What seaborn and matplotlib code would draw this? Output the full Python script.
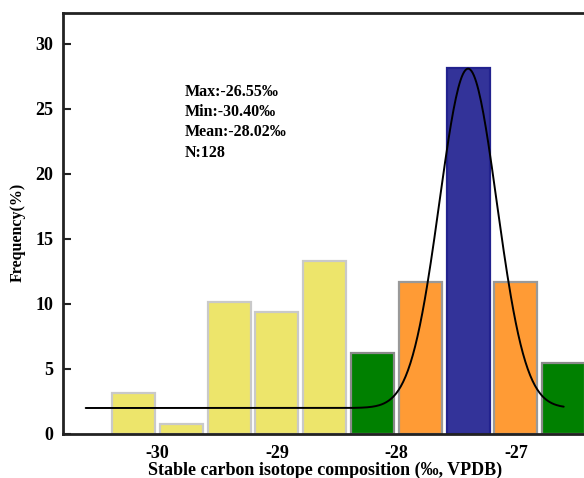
import numpy as np
import pandas as pd
import matplotlib
matplotlib.use("Agg")
import matplotlib.pyplot as plt
import seaborn as sns

# ---- data ----
bin_left = [-30.4, -30.0, -29.6, -29.2, -28.8, -28.4, -28.0, -27.6, -27.2, -26.8]
bin_width = 0.4
freq_pct = [3.13, 0.78, 10.16, 9.38, 13.28, 6.25, 11.72, 28.13, 11.72, 5.47]
bar_colors = ["#EDE56B", "#EDE56B", "#EDE56B", "#EDE56B", "#EDE56B",
              "#008000", "#FF9B35", "#333399", "#FF9B35", "#008000"]
edge_colors = ["#C9C9C9", "#C9C9C9", "#C9C9C9", "#C9C9C9", "#C9C9C9",
               "#8A8A8A", "#999999", "#22228E", "#999999", "#8A8A8A"]
x_ticks = [-30, -29, -28, -27]
y_ticks = [0, 5, 10, 15, 20, 25, 30]
stats_lines = ["Max:-26.55\u2030", "Min:-30.40\u2030", "Mean:-28.02\u2030", "N:128"]
# fitted curve parameters (baseline + gaussian)
fit_base, fit_amp, fit_mu, fit_sigma = 2.0, 26.1, -27.4, 0.24
fit_range = (-30.6, -26.6)

sns.set_theme(style="white")
plt.rcParams["font.family"] = ["Liberation Serif", "DejaVu Serif"]
plt.rcParams["font.weight"] = "bold"
for k in ["text.color", "axes.labelcolor", "xtick.color", "ytick.color"]:
    plt.rcParams[k] = "black"

fig = plt.figure(figsize=(5.84, 4.78), dpi=100)
ax = fig.add_axes([63 / 584, 44 / 478, 548.5 / 584, 421 / 478])

centers = [b + bin_width / 2 for b in bin_left]
edges = bin_left + [bin_left[-1] + bin_width]
df = pd.DataFrame({"x": centers, "w": freq_pct})
sns.histplot(data=df, x="x", weights="w", bins=edges, shrink=0.9, ax=ax,
             stat="count", alpha=1, linewidth=1.6)
for p, fc, ec in zip(ax.patches, bar_colors, edge_colors):
    p.set_facecolor(fc)
    p.set_edgecolor(ec)

xs = np.linspace(fit_range[0], fit_range[1], 400)
ys = fit_base + fit_amp * np.exp(-(xs - fit_mu) ** 2 / (2 * fit_sigma ** 2))
sns.lineplot(x=xs, y=ys, ax=ax, color="black", linewidth=1.4)

ax.set_xlim(-30.79, -26.2)
ax.set_ylim(0, 32.38)
ax.set_xticks(x_ticks)
ax.set_xticklabels([str(t) for t in x_ticks])
ax.set_yticks(y_ticks)
ax.set_yticklabels([str(t) for t in y_ticks])
ax.tick_params(axis="x", length=0, pad=8, labelsize=13, labelcolor="black")
ax.tick_params(axis="y", direction="in", length=6, width=1.5, color="#222222",
               pad=7, labelsize=13, left=True, labelcolor="black")
for lab in ax.get_xticklabels() + ax.get_yticklabels():
    lab.set_fontweight("bold")

for s in ["left", "bottom", "top"]:
    ax.spines[s].set_visible(True)
    ax.spines[s].set_color("#222222")
    ax.spines[s].set_linewidth(2)
ax.spines["right"].set_visible(False)

ax.set_xlabel("Stable carbon isotope composition (\u2030, VPDB)", fontsize=13,
              fontweight="bold", color="black")
ax.xaxis.set_label_coords((325 - 63) / 548.5, -(470 - 434) / 421)
ax.xaxis.label.set_va("center")
ax.set_ylabel("Frequency(%)", fontsize=11.5, fontweight="bold", color="black")
ax.yaxis.set_label_coords((18 - 63) / 548.5, (434 - 232) / 421)
ax.yaxis.label.set_va("center")

text_y = [26.3, 24.8, 23.2, 21.6]
for t, yv in zip(stats_lines, text_y):
    ax.text(-29.77, yv, t, fontsize=11.5, fontweight="bold", va="center",
            ha="left", color="black")

fig.savefig("out.png", dpi=100)
